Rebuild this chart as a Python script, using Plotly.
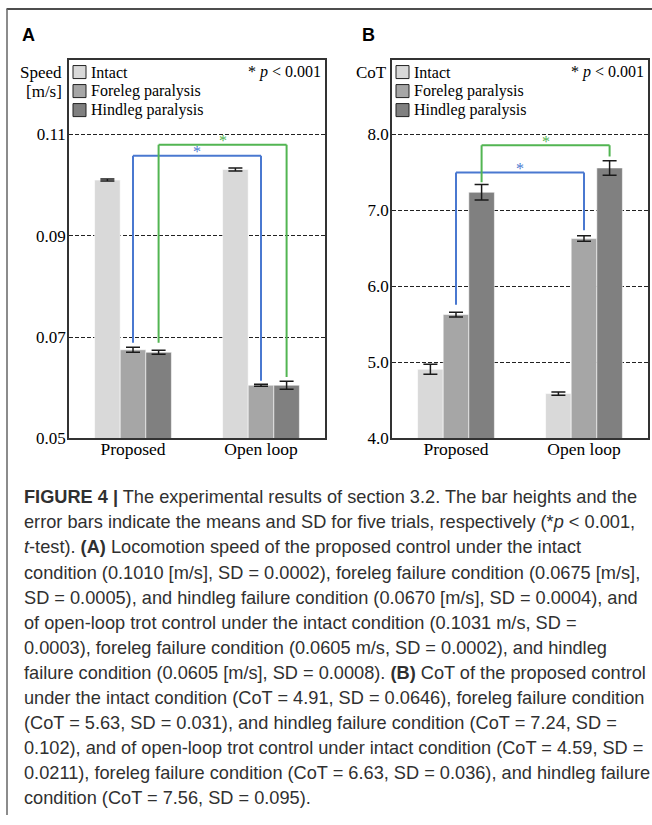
import plotly.graph_objects as go

# ---------------- data ----------------
groups = ["Proposed", "Open loop"]
conditions = ["Intact", "Foreleg paralysis", "Hindleg paralysis"]

speed_intact = [0.1010, 0.1031]
speed_foreleg = [0.0675, 0.0605]
speed_hindleg = [0.0670, 0.0605]
speed_sd_intact = [0.0002, 0.0003]
speed_sd_foreleg = [0.0005, 0.0002]
speed_sd_hindleg = [0.0004, 0.0008]

cot_intact = [4.91, 4.59]
cot_foreleg = [5.63, 6.63]
cot_hindleg = [7.24, 7.56]
cot_sd_intact = [0.0646, 0.0211]
cot_sd_foreleg = [0.031, 0.036]
cot_sd_hindleg = [0.102, 0.095]

speed_ticks = [0.05, 0.07, 0.09, 0.11]
speed_ticktext = ["0.05", "0.07", "0.09", "0.11"]
cot_ticks = [4.0, 5.0, 6.0, 7.0, 8.0]
cot_ticktext = ["4.0", "5.0", "6.0", "7.0", "8.0"]

caption_lines = [
    "<b>FIGURE 4 |</b> The experimental results of section 3.2. The bar heights and the",
    "error bars indicate the means and SD for five trials, respectively (*<i>p</i> &lt; 0.001,",
    "<i>t</i>-test). <b>(A)</b> Locomotion speed of the proposed control under the intact",
    "condition (0.1010 [m/s], SD = 0.0002), foreleg failure condition (0.0675 [m/s],",
    "SD = 0.0005), and hindleg failure condition (0.0670 [m/s], SD = 0.0004), and",
    "of open-loop trot control under the intact condition (0.1031 m/s, SD =",
    "0.0003), foreleg failure condition (0.0605 m/s, SD = 0.0002), and hindleg",
    "failure condition (0.0605 [m/s], SD = 0.0008). <b>(B)</b> CoT of the proposed control",
    "under the intact condition (CoT = 4.91, SD = 0.0646), foreleg failure condition",
    "(CoT = 5.63, SD = 0.031), and hindleg failure condition (CoT = 7.24, SD =",
    "0.102), and of open-loop trot control under intact condition (CoT = 4.59, SD =",
    "0.0211), foreleg failure condition (CoT = 6.63, SD = 0.036), and hindleg failure",
    "condition (CoT = 7.56, SD = 0.095).",
]

# ---------------- style ----------------
W, H = 652, 825
SY = 1.0 / 0.987   # compensates the vertical squeeze seen in the photographed page
colors = ["#d9d9d9", "#a6a6a6", "#808080"]
blue = "#4a78d0"
green = "#52b552"
serif = "Liberation Serif, Times New Roman, serif"
sans = "Liberation Sans, Arial, sans-serif"


def px_x(p):
    return p / W


def px_y(p):
    return 1 - p * SY / H


fig = go.Figure()

panelA = [(speed_intact, speed_sd_intact), (speed_foreleg, speed_sd_foreleg), (speed_hindleg, speed_sd_hindleg)]
panelB = [(cot_intact, cot_sd_intact), (cot_foreleg, cot_sd_foreleg), (cot_hindleg, cot_sd_hindleg)]

for (vals, sds), name, col in zip(panelA, conditions, colors):
    fig.add_trace(go.Bar(
        x=groups, y=vals, name=name, marker=dict(color=col, line=dict(color="rgba(255,255,255,0.7)", width=0.8)),
        error_y=dict(type="data", array=sds, visible=True, color="#1a1a1a", thickness=1.5, width=7),
        xaxis="x", yaxis="y", showlegend=False,
    ))
for (vals, sds), name, col in zip(panelB, conditions, colors):
    fig.add_trace(go.Bar(
        x=groups, y=vals, name=name, marker=dict(color=col, line=dict(color="rgba(255,255,255,0.7)", width=0.8)),
        error_y=dict(type="data", array=sds, visible=True, color="#1a1a1a", thickness=1.5, width=7),
        xaxis="x2", yaxis="y2", showlegend=False,
    ))

ydom = [px_y(438), px_y(60)]
axis_common = dict(showline=True, mirror=True, linecolor="#333333", linewidth=1.5,
                   ticks="", zeroline=False)
xfont = dict(family=serif, size=17.5, color="black")
yfont = dict(family=serif, size=17, color="black")
fig.update_layout(
    width=W, height=H, margin=dict(l=0, r=0, t=0, b=0),
    paper_bgcolor="white", plot_bgcolor="white",
    barmode="group", bargap=0.4, bargroupgap=0,
    showlegend=False,
    xaxis=dict(domain=[px_x(69), px_x(325)], anchor="y", range=[-0.5, 1.5], type="category",
               tickfont=xfont, showgrid=False, ticklabelstandoff=-6, **axis_common),
    yaxis=dict(domain=ydom, anchor="x", range=[0.05, 0.1247], tickvals=speed_ticks, ticktext=speed_ticktext,
               tickfont=yfont, showgrid=True, gridcolor="#222222", ticklabelstandoff=-2,
               griddash="4px,2px", gridwidth=1, **axis_common),
    xaxis2=dict(domain=[px_x(392), px_x(648)], anchor="y2", range=[-0.5, 1.5], type="category",
                tickfont=xfont, showgrid=False, ticklabelstandoff=-6, **axis_common),
    yaxis2=dict(domain=ydom, anchor="x2", range=[4.0, 8.98], tickvals=cot_ticks, ticktext=cot_ticktext,
                tickfont=yfont, showgrid=True, gridcolor="#222222", ticklabelstandoff=-2,
                griddash="4px,2px", gridwidth=1, **axis_common),
)

# ---------------- significance brackets ----------------
brackets = [
    # xref, yref, x_left, x_right, y_left_end, y_top, y_right_end, colour
    ("x", "y", 0.0, 1.0, 0.0689, 0.1058, 0.0614, blue),
    ("x", "y", 0.2, 1.2, 0.0689, 0.1080, 0.0621, green),
    ("x2", "y2", 0.0, 1.0, 5.76, 7.50, 6.74, blue),
    ("x2", "y2", 0.2, 1.2, 7.37, 7.86, 7.71, green),
]
for xr, yr, x0, x1, yl, yt, yrr, col in brackets:
    for (ax, ay, bx, by) in [(x0, yl, x0, yt), (x0, yt, x1, yt), (x1, yt, x1, yrr)]:
        fig.add_shape(type="line", xref=xr, yref=yr, x0=ax, y0=ay, x1=bx, y1=by,
                      line=dict(color=col, width=2))
    fig.add_annotation(xref=xr, yref=yr, x=(x0 + x1) / 2, y=yt, text="*", showarrow=False,
                       font=dict(family=serif, size=16, color=col), yanchor="middle", yshift=4)

# ---------------- legends (drawn) ----------------
for left in (73, 396):
    for i, (name, col) in enumerate(zip(conditions, colors)):
        cy = 72 + i * 19
        fig.add_shape(type="rect", xref="paper", yref="paper",
                      x0=px_x(left), x1=px_x(left + 13), y0=px_y(cy - 6.5), y1=px_y(cy + 6.5),
                      fillcolor=col, line=dict(color="#222222", width=1))
        fig.add_annotation(xref="paper", yref="paper", x=px_x(left + 16), y=px_y(cy), text=name,
                           showarrow=False, xanchor="left", yanchor="middle",
                           font=dict(family=serif, size=16, color="black"))

for right in (323, 646):
    fig.add_annotation(xref="paper", yref="paper", x=px_x(right), y=px_y(72),
                       text="* <i>p</i> &lt; 0.001", showarrow=False, xanchor="right", yanchor="middle",
                       font=dict(family=serif, size=16, color="black"))

fig.add_annotation(xref="paper", yref="paper", x=px_x(64), y=px_y(72), text="Speed", showarrow=False,
                   xanchor="right", yanchor="middle", font=dict(family=serif, size=17, color="black"))
fig.add_annotation(xref="paper", yref="paper", x=px_x(64), y=px_y(91), text="[m/s]", showarrow=False,
                   xanchor="right", yanchor="middle", font=dict(family=serif, size=17, color="black"))
fig.add_annotation(xref="paper", yref="paper", x=px_x(389), y=px_y(72), text="CoT", showarrow=False,
                   xanchor="right", yanchor="middle", font=dict(family=serif, size=17, color="black"))

for x, letter in ((20, "A"), (360, "B")):
    fig.add_annotation(xref="paper", yref="paper", x=px_x(x), y=px_y(35), text="<b>%s</b>" % letter,
                       showarrow=False, xanchor="left", yanchor="middle",
                       font=dict(family=sans, size=18, color="black"))

# outer frame lines
fig.add_shape(type="line", xref="paper", yref="paper", x0=px_x(6.5), x1=1, y0=px_y(9), y1=px_y(9),
              line=dict(color="#4d4d4d", width=2))
fig.add_shape(type="line", xref="paper", yref="paper", x0=px_x(7), x1=px_x(7), y0=px_y(9), y1=0,
              line=dict(color="#666666", width=1.5))

# caption
for i, line in enumerate(caption_lines):
    fig.add_annotation(xref="paper", yref="paper", x=px_x(22), y=px_y(497 + 25 * i), text=line,
                       showarrow=False, xanchor="left", yanchor="middle", align="left",
                       font=dict(family=sans, size=18.2, color="#303030"))

fig.write_html(
    "out.html",
    config={"displayModeBar": False, "responsive": False},
    post_script=("document.documentElement.style.margin='0';document.body.style.margin='0';"
                 "document.documentElement.style.overflow='hidden';document.body.style.overflow='hidden';"),
)
